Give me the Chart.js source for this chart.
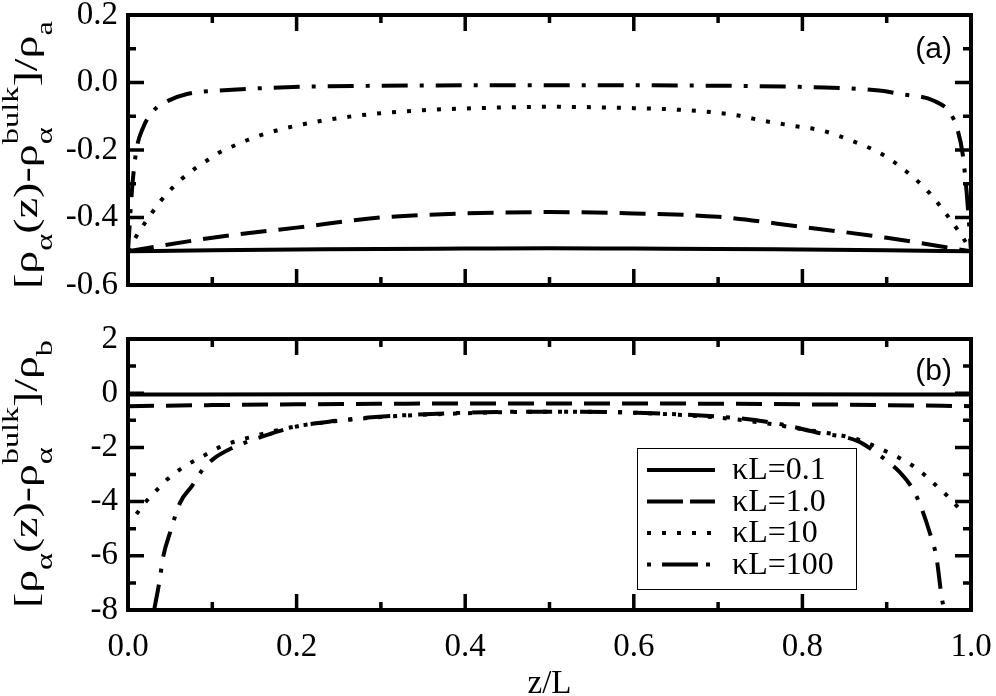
<!DOCTYPE html>
<html>
<head>
<meta charset="utf-8">
<script src="https://cdn.jsdelivr.net/npm/chart.js@4.4.1/dist/chart.umd.min.js"></script>
<style>
  html, body { margin: 0; padding: 0; background: #fff; }
  #wrap { position: relative; width: 996px; height: 696px; }
  canvas { position: absolute; left: 0; }
  #chart-a { top: 0; }
  #chart-b { top: 300px; }
</style>
</head>
<body>
<div id="wrap">
  <canvas id="chart-a" width="996" height="300"></canvas>
  <canvas id="chart-b" width="996" height="396"></canvas>
</div>
<script>
// values
const seriesLabels = ['κL=0.1', 'κL=1.0', 'κL=10', 'κL=100'];

const xMajor = [0, 0.2, 0.4, 0.6, 0.8, 1.0];
const xMinor = [0.1, 0.3, 0.5, 0.7, 0.9];
const yMajorA = [-0.6, -0.4, -0.2, 0.0, 0.2];
const yMinorA = [-0.5, -0.3, -0.1, 0.1];
const yMajorB = [-8, -6, -4, -2, 0, 2];
const yMinorB = [-7, -5, -3, -1, 1];

// panel (a)
const zA01 = [0, 0.1, 0.2, 0.3, 0.4, 0.5, 0.6, 0.7, 0.8, 0.9, 1.0];
const a01 = [-0.500, -0.497, -0.495, -0.493, -0.492, -0.491, -0.492, -0.493, -0.495, -0.497, -0.500];
const zA1 = [0, 0.1, 0.2, 0.3, 0.4, 0.5, 0.6, 0.7, 0.8, 0.9, 1.0];
const a1 = [-0.500, -0.460, -0.430, -0.400, -0.388, -0.384, -0.388, -0.398, -0.428, -0.460, -0.500];
const zA10 = [0, 0.009, 0.019, 0.029, 0.04, 0.052, 0.065, 0.08, 0.095, 0.11, 0.127, 0.143, 0.161, 0.178, 0.196, 0.231, 0.266, 0.3, 0.35, 0.4, 0.5, 0.6, 0.655, 0.717, 0.753, 0.788, 0.824, 0.859, 0.894, 0.923, 0.951, 0.971, 0.984, 0.992, 1];
const a10 = [-0.5, -0.459, -0.42, -0.384, -0.347, -0.314, -0.283, -0.254, -0.229, -0.205, -0.186, -0.169, -0.153, -0.141, -0.130, -0.113, -0.100, -0.091, -0.082, -0.077, -0.072, -0.076, -0.081, -0.095, -0.113, -0.128, -0.143, -0.173, -0.212, -0.263, -0.328, -0.391, -0.436, -0.466, -0.5];
const zA100 = [0, 0.005, 0.01, 0.018, 0.03, 0.046, 0.07, 0.109, 0.188, 0.283, 0.5, 0.717, 0.812, 0.891, 0.916, 0.956, 0.976, 0.984, 0.99, 0.995, 1];
const a100 = [-0.5, -0.31, -0.20, -0.133, -0.084, -0.056, -0.034, -0.024, -0.014, -0.010, -0.008, -0.010, -0.014, -0.024, -0.034, -0.054, -0.093, -0.14, -0.21, -0.33, -0.5];

// panel (b)
const zB01 = [0, 0.25, 0.5, 0.75, 1];
const b01 = [-0.05, -0.04, -0.04, -0.04, -0.05];
const zB1 = [0, 0.1, 0.2, 0.3, 0.4, 0.5, 0.6, 0.7, 0.8, 0.9, 1.0];
const b1 = [-0.48, -0.44, -0.41, -0.39, -0.38, -0.38, -0.38, -0.39, -0.41, -0.44, -0.48];
const zB10 = [0.01, 0.021, 0.034, 0.047, 0.061, 0.077, 0.093, 0.108, 0.125, 0.143, 0.161, 0.2, 0.25, 0.3, 0.4, 0.5, 0.6, 0.7, 0.75, 0.8, 0.865, 0.898, 0.914, 0.93, 0.944, 0.957, 0.971, 0.985];
const b10 = [-4.46, -4.01, -3.58, -3.17, -2.83, -2.52, -2.25, -2.00, -1.80, -1.64, -1.49, -1.22, -1.02, -0.88, -0.74, -0.68, -0.72, -0.90, -1.08, -1.33, -1.70, -2.13, -2.37, -2.66, -2.99, -3.36, -3.76, -4.22];
const zB100 = [0.031, 0.037, 0.042, 0.05, 0.062, 0.076, 0.089, 0.101, 0.125, 0.141, 0.168, 0.2, 0.247, 0.285, 0.4, 0.5, 0.6, 0.726, 0.774, 0.817, 0.865, 0.888, 0.916, 0.931, 0.941, 0.951, 0.959, 0.965, 0.968];
const b100 = [-8.0, -7.0, -6.0, -5.13, -4.03, -3.42, -2.8, -2.43, -2.0, -1.80, -1.51, -1.23, -1.02, -0.90, -0.72, -0.68, -0.72, -0.93, -1.14, -1.45, -1.76, -2.21, -2.93, -3.54, -4.22, -5.14, -6.06, -7.48, -8.0];

const SERIF = '"Liberation Serif", "Times New Roman", serif';
const SANS = '"Liberation Sans", Arial, sans-serif';

const dashes = [[], [26, 12], [4, 11], [26, 12, 4, 12]];
const legendDashes = [[], [36, 7], [4, 11], [4, 11, 36, 8, 4, 40]];

function pts(zs, vs) {
    return zs.map((z, i) => ({ x: z, y: vs[i] }));
}

function makeDatasets(pairs) {
    return pairs.map((p, i) => ({
        label: seriesLabels[i],
        data: pts(p[0], p[1]),
        borderColor: '#000',
        borderWidth: 4,
        borderDash: dashes[i],
        legendDash: legendDashes[i],
        pointRadius: 0,
        fill: false,
        cubicInterpolationMode: 'monotone'
    }));
}

function drawYTitle(ctx, baseX, cy, last, target) {
    const main = '34px ' + SERIF, small = '24px ' + SERIF;
    const parts = [
        { t: '[ρ', f: main, dy: 0 },
        { t: 'α', f: small, dy: 15 },
        { t: '(z)-ρ', f: main, dy: 0 },
        { t: 'α', f: small, dy: 15, sup: 'bulk' },
        { t: ']/ρ', f: main, dy: 0 },
        { t: last, f: small, dy: 15 }
    ];
    let total = 0;
    parts.forEach(p => {
        ctx.font = p.f;
        let w = ctx.measureText(p.t).width;
        if (p.sup) w = Math.max(w, ctx.measureText(p.sup).width);
        p.w = w;
        total += w;
    });
    ctx.save();
    ctx.translate(baseX, cy);
    ctx.rotate(-Math.PI / 2);
    ctx.scale(target / total, 1);
    ctx.fillStyle = '#000';
    ctx.textBaseline = 'alphabetic';
    ctx.textAlign = 'left';
    let pos = -total / 2;
    parts.forEach(p => {
        ctx.font = p.f;
        ctx.fillText(p.t, pos, p.dy);
        if (p.sup) ctx.fillText(p.sup, pos, -19);
        pos += p.w;
    });
    ctx.restore();
}

function decorations(opts) {
    return {
        id: 'decor',
        afterDraw(chart) {
            const ctx = chart.ctx, a = chart.chartArea;
            const xs = chart.scales.x, ys = chart.scales.y;
            ctx.save();
            ctx.strokeStyle = '#000';
            ctx.lineWidth = 4;
            ctx.strokeRect(a.left, a.top, a.right - a.left, a.bottom - a.top);
            ctx.beginPath();
            ctx.lineWidth = 3.5;
            const xt = (vals, len) => vals.forEach(v => {
                const p = xs.getPixelForValue(v);
                ctx.moveTo(p, a.bottom); ctx.lineTo(p, a.bottom - len);
                ctx.moveTo(p, a.top); ctx.lineTo(p, a.top + len);
            });
            const yt = (vals, len) => vals.forEach(v => {
                const p = ys.getPixelForValue(v);
                ctx.moveTo(a.left, p); ctx.lineTo(a.left + len, p);
                ctx.moveTo(a.right, p); ctx.lineTo(a.right - len, p);
            });
            xt(xMajor, 16); xt(xMinor, 8);
            yt(opts.yMajor, 16); yt(opts.yMinor, 8);
            ctx.stroke();

            // panel tag
            ctx.fillStyle = '#000';
            ctx.font = '30px ' + SANS;
            ctx.textAlign = 'right';
            ctx.textBaseline = 'middle';
            ctx.fillText(opts.tag, 952, opts.tagY);

            drawYTitle(ctx, 37, opts.titleY, opts.sub, 268);

            if (opts.xTitle) {
                ctx.font = '33px ' + SERIF;
                ctx.textAlign = 'center';
                ctx.textBaseline = 'alphabetic';
                ctx.fillText('z/L', (a.left + a.right) / 2, 393);
            }

            if (opts.legend) {
                const L = opts.legend;
                ctx.lineWidth = 1;
                ctx.strokeRect(L.x + 0.5, L.y + 0.5, L.w, L.h);
                chart.data.datasets.forEach((ds, i) => {
                    const yy = L.y + 22 + i * 31.5;
                    ctx.beginPath();
                    ctx.lineWidth = 4;
                    ctx.setLineDash(ds.legendDash);
                    ctx.moveTo(L.x + 10, yy);
                    ctx.lineTo(L.x + 78, yy);
                    ctx.stroke();
                    ctx.setLineDash([]);
                    ctx.font = '32px ' + SERIF;
                    ctx.textAlign = 'left';
                    ctx.textBaseline = 'middle';
                    ctx.fillText(ds.label, L.x + 95, yy + 1);
                });
            }
            ctx.restore();
        }
    };
}

function yAxis(min, max, ticks) {
    return {
        type: 'linear',
        min: min,
        max: max,
        grid: { display: false, drawTicks: false },
        border: { display: false },
        afterBuildTicks: s => { s.ticks = ticks.map(v => ({ value: v })); },
        afterFit: s => { s.width = 128; s.paddingTop = 0; s.paddingBottom = 0; },
        ticks: {
            color: '#000',
            padding: 10,
            font: { family: SERIF, size: 33, lineHeight: 1 },
            callback: v => (Math.abs(v) < 1e-9 ? 0 : v).toFixed(Number.isInteger(ticks[1]) ? 0 : 1)
        }
    };
}

function xAxis(show) {
    return {
        type: 'linear',
        min: 0,
        max: 1,
        display: show,
        grid: { display: false, drawTicks: false },
        border: { display: false },
        afterBuildTicks: s => { s.ticks = xMajor.map(v => ({ value: v })); },
        afterFit: s => { if (show) { s.height = 86; } s.paddingLeft = 0; s.paddingRight = 0; },
        ticks: {
            color: '#000',
            padding: 21,
            maxRotation: 0,
            font: { family: SERIF, size: 33, lineHeight: 1 },
            callback: v => v.toFixed(1)
        }
    };
}

const chartA = new Chart(document.getElementById('chart-a').getContext('2d'), {
    type: 'line',
    data: {
        datasets: makeDatasets([[zA01, a01], [zA1, a1], [zA10, a10], [zA100, a100]])
    },
    options: {
        responsive: false,
        animation: false,
        layout: { padding: { top: 15, right: 25, bottom: 15, left: 0 } },
        plugins: { legend: { display: false }, tooltip: { enabled: false } },
        scales: { x: xAxis(false), y: yAxis(-0.6, 0.2, yMajorA) }
    },
    plugins: [decorations({ yMajor: yMajorA, yMinor: yMinorA, tag: '(a)', tagY: 50, titleY: 155, sub: 'a' })]
});

const chartB = new Chart(document.getElementById('chart-b').getContext('2d'), {
    type: 'line',
    data: {
        datasets: makeDatasets([[zB01, b01], [zB1, b1], [zB10, b10], [zB100, b100]])
    },
    options: {
        responsive: false,
        animation: false,
        layout: { padding: { top: 39, right: 25, bottom: 0, left: 0 } },
        plugins: { legend: { display: false }, tooltip: { enabled: false } },
        scales: { x: xAxis(true), y: yAxis(-8, 2, yMajorB) }
    },
    plugins: [decorations({
        yMajor: yMajorB, yMinor: yMinorB, tag: '(b)', tagY: 72, titleY: 174, sub: 'b',
        xTitle: true, legend: { x: 637, y: 148, w: 219, h: 141 }
    })]
});
</script>
</body>
</html>
